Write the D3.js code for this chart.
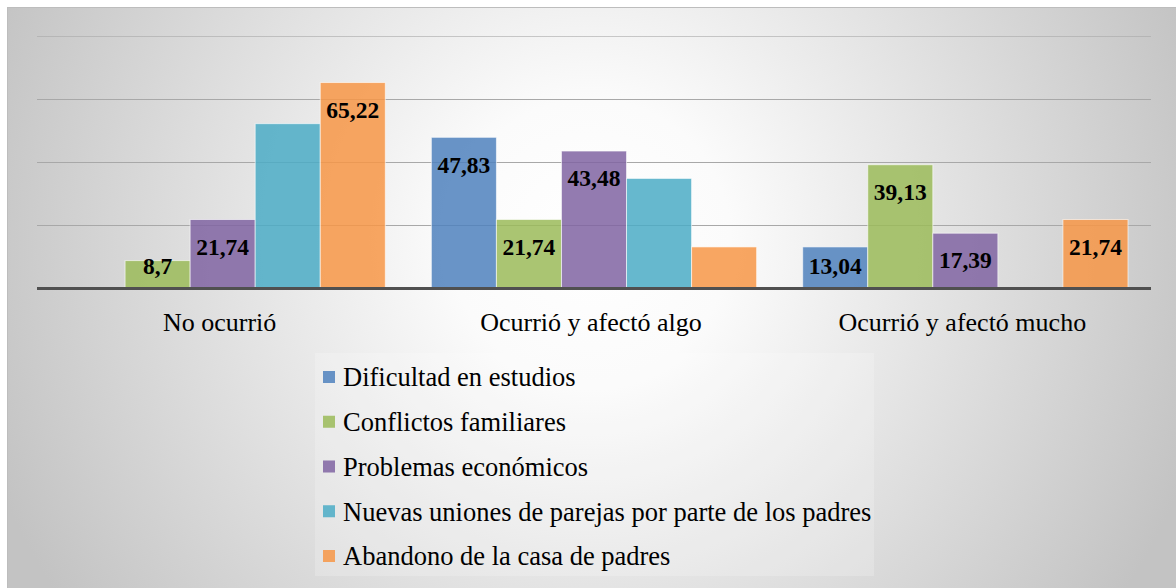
<!DOCTYPE html>
<html>
<head>
<meta charset="utf-8">
<script src="https://cdn.jsdelivr.net/npm/d3@7"></script>
<style>
  body { margin: 0; background: #fff; }
</style>
</head>
<body>
<svg id="mySvg"></svg>
<script>
const width = 1176;
const height = 588;
const serif = "Liberation Serif";

// categories on the x axis
const categories = ["No ocurrió", "Ocurrió y afectó algo", "Ocurrió y afectó mucho"];

// series names (legend order)
const seriesNames = [
  "Dificultad en estudios",
  "Conflictos familiares",
  "Problemas económicos",
  "Nuevas uniones de parejas por parte de los padres",
  "Abandono de la casa de padres"
];

// values per series, one per category
const dificultad = [0, 47.83, 13.04];
const conflictos = [8.7, 21.74, 39.13];
const problemas = [21.74, 43.48, 17.39];
const nuevas = [52.17, 34.78, 0];
const abandono = [65.22, 13.04, 21.74];

// which data labels are shown in the original
const showDificultad = [false, true, true];
const showConflictos = [true, true, true];
const showProblemas = [true, true, true];
const showNuevas = [false, false, false];
const showAbandono = [true, false, true];

const yTicks = [20, 40, 60, 80];

const colors = ["#4F81BD", "#9BBB59", "#8064A2", "#4BACC6", "#F79646"];

const seriesValues = [dificultad, conflictos, problemas, nuevas, abandono];
const seriesShow = [showDificultad, showConflictos, showProblemas, showNuevas, showAbandono];

const svg = d3.select("#mySvg")
  .attr("width", width)
  .attr("height", height);

// background gradient
const defs = svg.append("defs");
const grad = defs.append("radialGradient")
  .attr("id", "bg")
  .attr("gradientUnits", "userSpaceOnUse")
  .attr("cx", 590).attr("cy", 240).attr("r", 640);
grad.append("stop").attr("offset", "0%").attr("stop-color", "#ffffff");
grad.append("stop").attr("offset", "22%").attr("stop-color", "#fbfbfb");
grad.append("stop").attr("offset", "100%").attr("stop-color", "#c3c3c3");

svg.append("rect")
  .attr("x", 7).attr("y", 7)
  .attr("width", width).attr("height", height)
  .attr("fill", "url(#bg)");
svg.append("line")
  .attr("x1", 7).attr("x2", width).attr("y1", 7.5).attr("y2", 7.5)
  .attr("stroke", "#bdbdbd");
svg.append("line")
  .attr("x1", 7.5).attr("x2", 7.5).attr("y1", 7).attr("y2", height)
  .attr("stroke", "#bdbdbd");

// scales
const x0 = d3.scaleBand().domain(categories).range([37, 1151]).padding(0);
const pad = x0.bandwidth() * 0.062;
const x1 = d3.scaleBand().domain(d3.range(seriesNames.length))
  .range([pad, x0.bandwidth() - pad]).padding(0);
const y = d3.scaleLinear().domain([0, 80]).range([288, 36]);

// gridlines
svg.append("g")
  .selectAll("line")
  .data(yTicks)
  .enter()
  .append("line")
  .attr("x1", 37).attr("x2", 1151)
  .attr("y1", (d) => Math.round(y(d)) + 0.5)
  .attr("y2", (d) => Math.round(y(d)) + 0.5)
  .attr("stroke", "#a8a8a8")
  .attr("stroke-opacity", (d) => (d === 80 ? 0.6 : 1))
  .attr("stroke-width", 1.2);

// bars
const groups = svg.append("g")
  .selectAll("g")
  .data(categories)
  .enter()
  .append("g")
  .attr("transform", (d) => `translate(${x0(d)},0)`);

groups.each(function (cat, ci) {
  const g = d3.select(this);
  seriesValues.forEach((vals, si) => {
    const v = vals[ci];
    if (v <= 0) return;
    g.append("rect")
      .attr("x", x1(si))
      .attr("y", y(v))
      .attr("width", x1.bandwidth())
      .attr("height", y(0) - y(v))
      .attr("fill", colors[si])
      .attr("fill-opacity", 0.85)
      .attr("stroke", "#ffffff")
      .attr("stroke-opacity", 0.6)
      .attr("stroke-width", 1);
  });
  seriesValues.forEach((vals, si) => {
    const v = vals[ci];
    if (v <= 0 || !seriesShow[si][ci]) return;
    g.append("text")
      .attr("x", x1(si) + x1.bandwidth() / 2)
      .attr("y", Math.min(y(v) + 27, 266))
      .attr("dy", "0.35em")
      .attr("text-anchor", "middle")
      .style("font-family", serif)
      .style("font-weight", "bold")
      .style("font-size", "23.5px")
      .attr("fill", "#000")
      .text(String(v).replace(".", ","));
  });
});

// baseline
svg.append("line")
  .attr("x1", 37).attr("x2", 1151)
  .attr("y1", y(0) + 0.5).attr("y2", y(0) + 0.5)
  .attr("stroke", "#505050")
  .attr("stroke-width", 3);

// x axis labels
svg.append("g")
  .selectAll("text")
  .data(categories)
  .enter()
  .append("text")
  .attr("x", (d) => x0(d) + x0.bandwidth() / 2 - 3)
  .attr("y", 322)
  .attr("dy", "0.35em")
  .attr("text-anchor", "middle")
  .style("font-family", serif)
  .style("font-size", "26px")
  .attr("fill", "#000")
  .text((d) => d);

// legend
const legend = svg.append("g");
legend.append("rect")
  .attr("x", 315).attr("y", 353)
  .attr("width", 559).attr("height", 223)
  .attr("fill", "#ffffff")
  .attr("fill-opacity", 0.2);

const rows = legend.selectAll("g.row")
  .data(seriesNames)
  .enter()
  .append("g")
  .attr("class", "row")
  .attr("transform", (d, i) => `translate(323, ${377 + i * 44.75})`);

rows.append("rect")
  .attr("x", 0).attr("y", -6)
  .attr("width", 12).attr("height", 12)
  .attr("fill", (d, i) => colors[i])
  .attr("fill-opacity", 0.85);

rows.append("text")
  .attr("x", 20)
  .attr("y", 0)
  .attr("dy", "0.35em")
  .style("font-family", serif)
  .style("font-size", "26.5px")
  .attr("fill", "#000")
  .text((d) => d);
</script>
</body>
</html>
